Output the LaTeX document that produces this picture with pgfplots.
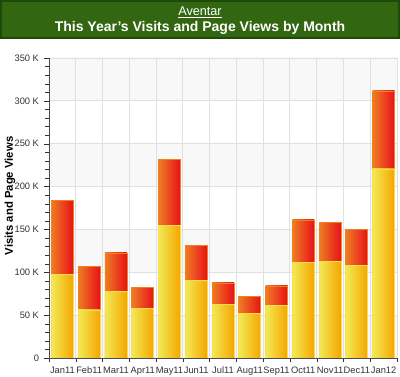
\documentclass[border=0pt]{standalone}
\usepackage{pgfplots}
\pgfplotsset{compat=1.18}
\usepackage{fontspec}
\setmainfont{Liberation Sans}
\definecolor{hdr}{HTML}{336611}
\definecolor{hdrb}{HTML}{1E4A08}
\definecolor{yl}{HTML}{F2EA55}
\definecolor{yr}{HTML}{F5A500}
\definecolor{rl}{HTML}{EE7D22}
\definecolor{rr}{HTML}{E8101A}
\definecolor{band}{HTML}{F8F8F8}
\pgfdeclareverticalshading{bands}{100bp}{%
color(0bp)=(band); color(32.14bp)=(band);
color(32.15bp)=(white); color(39.28bp)=(white);
color(39.29bp)=(band); color(46.42bp)=(band);
color(46.43bp)=(white); color(53.57bp)=(white);
color(53.58bp)=(band); color(60.71bp)=(band);
color(60.72bp)=(white); color(67.85bp)=(white);
color(67.86bp)=(band); color(100bp)=(band)}
\pgfplotsset{
  redbar/.style={bar shift=0pt, draw={rgb,255:red,240;green,130;blue,30}, line width=0.6pt, left color=rl, right color=rr},
  yelbar/.style={bar shift=0pt, draw={rgb,255:red,250;green,220;blue,80}, line width=0.6pt, left color=yl, right color=yr},
}
\begin{document}
\begin{tikzpicture}
\useasboundingbox (-36.75pt,-14.25pt) rectangle (263.25pt,268.5pt);
\fill[hdr,draw=hdrb,line width=1.1pt] (-36pt,240pt) rectangle (262.5pt,267.75pt);
\node[white,font=\fontsize{9.5}{11}\selectfont] at (113.25pt,259pt) {\underline{Aventar}};
\node[white,font=\bfseries\fontsize{10.5}{12}\selectfont] at (113.25pt,247.5pt) {This Year's Visits and Page Views by Month};
\begin{axis}[
  at={(0pt,0pt)}, anchor=south west,
  scale only axis, width=261pt, height=225pt,
  axis background/.style={shading=bands},
  ymin=0, ymax=350, xmin=-0.5, xmax=12.5,
  ybar, bar width=16.5pt,
  /pgf/number format/assume math mode=true,
  xtick={0,...,12},
  xticklabels={Jan11,Feb11,Mar11,Apr11,May11,Jun11,Jul11,Aug11,Sep11,Oct11,Nov11,Dec11,Jan12},
  minor xtick={-0.5,0.5,...,12.5},
  xmajorgrids=false, xminorgrids=true,
  ytick={0,50,...,350}, minor ytick={0,10,...,350},
  ymajorgrids=true,
  grid style={black!12, line width=0.7pt},
  minor grid style={black!12, line width=0.7pt},
  major x tick style={draw=none},
  minor x tick style={black!80},
  tick align=outside, major tick length=4pt, minor tick length=3pt,
  y tick style={black!80},
  axis line style={black!70},
  axis x line*=bottom, axis y line*=left,
  yticklabel={\ifdim\tick pt=0pt 0\else\pgfmathprintnumber{\tick} K\fi},
  ticklabel style={font=\fontsize{7}{8}\selectfont, black!80},
  xticklabel style={yshift=1pt},
  ylabel={Visits and Page Views},
  ylabel style={font=\bfseries\fontsize{8.5}{10}\selectfont, at={(axis description cs:-0.112,0.54)}, anchor=center},
]
% totals (visits + page views)
\addplot[redbar] coordinates {(0,184)};
\addplot[redbar] coordinates {(1,107)};
\addplot[redbar] coordinates {(2,122.5)};
\addplot[redbar] coordinates {(3,82)};
\addplot[redbar] coordinates {(4,232)};
\addplot[redbar] coordinates {(5,131)};
\addplot[redbar] coordinates {(6,87.5)};
\addplot[redbar] coordinates {(7,72)};
\addplot[redbar] coordinates {(8,84)};
\addplot[redbar] coordinates {(9,161)};
\addplot[redbar] coordinates {(10,158)};
\addplot[redbar] coordinates {(11,150)};
\addplot[redbar] coordinates {(12,311.5)};
% lower segment
\addplot[yelbar] coordinates {(0,97)};
\addplot[yelbar] coordinates {(1,56)};
\addplot[yelbar] coordinates {(2,78)};
\addplot[yelbar] coordinates {(3,58)};
\addplot[yelbar] coordinates {(4,155)};
\addplot[yelbar] coordinates {(5,90)};
\addplot[yelbar] coordinates {(6,62)};
\addplot[yelbar] coordinates {(7,52)};
\addplot[yelbar] coordinates {(8,61)};
\addplot[yelbar] coordinates {(9,111)};
\addplot[yelbar] coordinates {(10,113)};
\addplot[yelbar] coordinates {(11,108)};
\addplot[yelbar] coordinates {(12,220.5)};
\end{axis}
\end{tikzpicture}
\end{document}
